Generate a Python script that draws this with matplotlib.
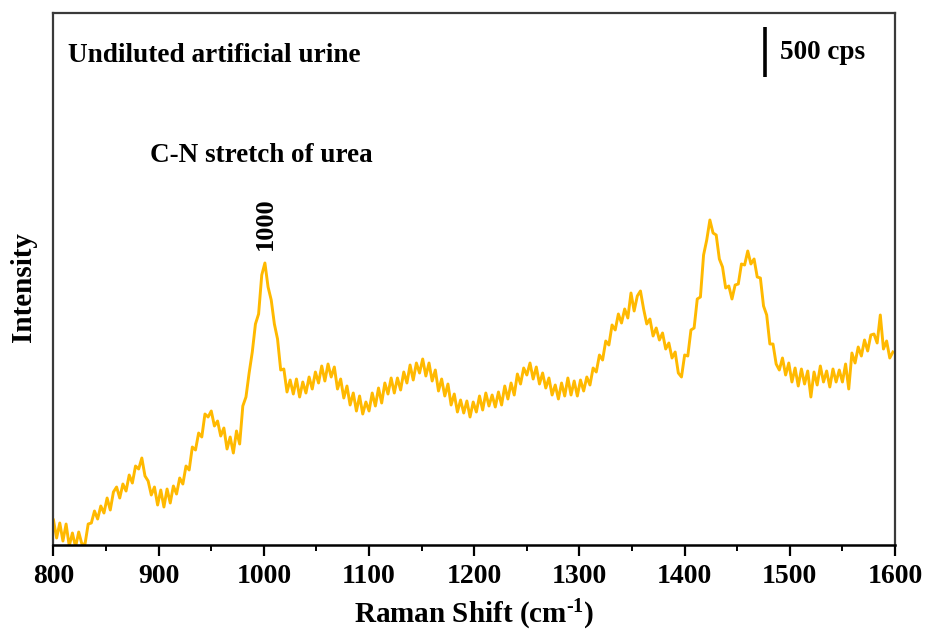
import numpy as np
import matplotlib
matplotlib.use("Agg")
import matplotlib.pyplot as plt
from matplotlib.ticker import MultipleLocator

# Raman shift sampling (cm-1), one reading every 3 cm-1
shift = np.arange(800, 1600, 3)

# intensity (cps), 10 readings per row (30 cm-1)
intensity = [
    250, 70, 220, 40, 210, -10, 120, -20, 130, 10,              # 800
    10, 210, 220, 340, 260, 390, 320, 470, 350, 530,            # 830
    580, 470, 610, 540, 700, 620, 790, 760, 870, 690,           # 860
    640, 500, 580, 400, 550, 380, 560, 420, 590, 510,           # 890
    670, 610, 790, 750, 980, 950, 1120, 1080, 1310, 1280,       # 920
    1340, 1190, 1240, 1090, 1170, 960, 1080, 920, 1140, 1010,   # 950
    1390, 1480, 1720, 1930, 2210, 2310, 2700, 2820, 2580, 2450, # 980
    2210, 2060, 1750, 1760, 1530, 1650, 1510, 1660, 1480, 1630, # 1010
    1520, 1680, 1560, 1730, 1620, 1790, 1640, 1810, 1680, 1780, # 1040
    1560, 1660, 1470, 1590, 1400, 1520, 1340, 1490, 1310, 1430, # 1070
    1340, 1520, 1390, 1570, 1420, 1620, 1510, 1670, 1520, 1670, # 1100
    1550, 1730, 1620, 1800, 1650, 1820, 1720, 1860, 1690, 1820, # 1130
    1640, 1750, 1540, 1660, 1490, 1610, 1400, 1510, 1330, 1450, # 1160
    1320, 1440, 1280, 1430, 1330, 1490, 1350, 1520, 1390, 1500, # 1190
    1380, 1530, 1400, 1590, 1460, 1620, 1500, 1710, 1610, 1770, # 1220
    1700, 1820, 1660, 1780, 1610, 1720, 1570, 1670, 1500, 1600, # 1250
    1460, 1620, 1490, 1670, 1500, 1640, 1490, 1650, 1540, 1680, # 1280
    1600, 1770, 1730, 1900, 1850, 2040, 2000, 2200, 2150, 2310, # 1310
    2220, 2360, 2270, 2520, 2340, 2490, 2540, 2360, 2210, 2260, # 1340
    2090, 2170, 2050, 2120, 1960, 2020, 1870, 1930, 1720, 1680, # 1370
    1900, 1890, 2150, 2170, 2460, 2480, 2900, 3050, 3250, 3120, # 1400
    3100, 2860, 2780, 2570, 2590, 2460, 2600, 2610, 2810, 2800, # 1430
    2940, 2810, 2860, 2680, 2670, 2390, 2300, 2010, 2010, 1810, # 1460
    1750, 1870, 1700, 1820, 1630, 1770, 1590, 1760, 1610, 1740, # 1490
    1480, 1730, 1600, 1790, 1630, 1740, 1580, 1760, 1630, 1750, # 1520
    1630, 1810, 1560, 1920, 1820, 1980, 1890, 2050, 1940, 2100, # 1550
    2110, 2020, 2300, 1960, 2040, 1870, 1930,                   # 1580
]

xticks = [800, 900, 1000, 1100, 1200, 1300, 1400, 1500, 1600]

plt.rcParams["font.family"] = ["Liberation Serif", "DejaVu Serif"]
plt.rcParams["font.weight"] = "bold"
plt.rcParams["mathtext.fontset"] = "custom"
plt.rcParams["mathtext.rm"] = "Liberation Serif:bold"
plt.rcParams["mathtext.default"] = "rm"

fig = plt.figure(figsize=(9.25, 6.33), dpi=100)
ax = fig.add_axes([0.0578, 0.139, 0.9098, 0.8405])

ax.plot(shift, intensity, color="#FFB900", lw=2.1)

ax.set_xlim(800, 1600)
ax.set_ylim(0, 5320)
ax.set_xticks(xticks)
ax.xaxis.set_minor_locator(MultipleLocator(50))
ax.set_yticks([])
ax.tick_params(axis="x", which="major", direction="out", length=8, width=1.6,
               labelsize=20, pad=6)
ax.tick_params(axis="x", which="minor", direction="out", length=4, width=1.4)
for lbl in ax.get_xticklabels():
    lbl.set_fontweight("bold")

for side in ["top", "right", "left"]:
    ax.spines[side].set_color("#3a3a3a")
    ax.spines[side].set_linewidth(1.6)
ax.spines["bottom"].set_color("black")
ax.spines["bottom"].set_linewidth(1.8)

ax.set_xlabel(r"Raman Shift (cm$^{\text{-1}}$)", fontsize=21, fontweight="bold")
ax.xaxis.set_label_coords(0.5, -0.1)
ax.set_ylabel("Intensity", fontsize=21, fontweight="bold")
ax.yaxis.set_label_coords(-0.02, 0.485)

ax.text(0.017, 0.908, "Undiluted artificial urine", transform=ax.transAxes,
        fontsize=19.6, fontweight="bold", va="baseline", ha="left")
ax.text(0.1147, 0.72, "C-N stretch of urea", transform=ax.transAxes,
        fontsize=19.5, fontweight="bold", va="baseline", ha="left")
ax.text(1001, 2950, "1000", rotation=90, fontsize=19, fontweight="bold",
        ha="center", va="bottom")

# 500 cps scale bar
ax.plot([1476, 1476], [4680, 5180], color="black", lw=2.6, solid_capstyle="butt")
ax.text(0.863, 0.9135, "500 cps", transform=ax.transAxes,
        fontsize=19.5, fontweight="bold", va="baseline", ha="left")

fig.savefig("out.png", dpi=100)
